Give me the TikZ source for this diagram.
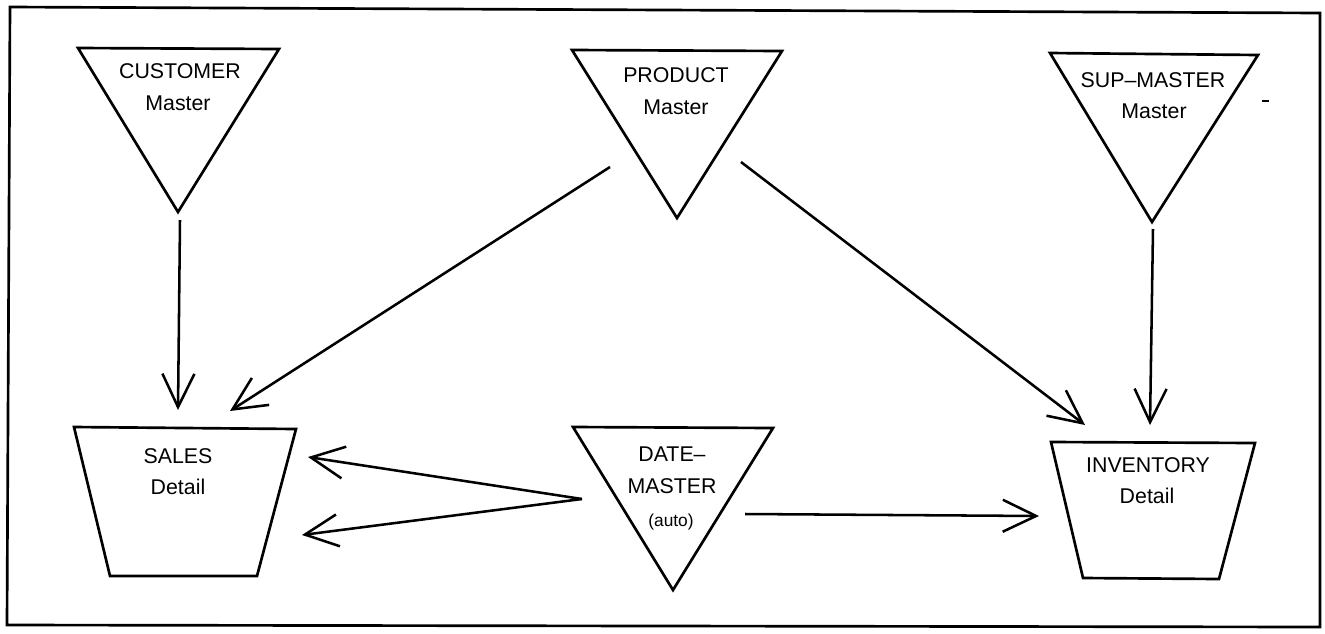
\documentclass[tikz,border=0pt]{standalone}
\usepackage{fontspec}
\setmainfont{Liberation Sans}
\usetikzlibrary{arrows.meta}
\begin{document}
\begin{tikzpicture}[x=0.75pt,y=-0.75pt,
  outline/.style={line width=2pt, line join=miter},
  frame/.style={line width=2pt},
  lbl/.style={anchor=base, inner sep=0pt, font=\fontsize{16}{19}\selectfont},
  smalllbl/.style={anchor=base, inner sep=0pt, font=\fontsize{13}{16}\selectfont},
  link/.style={line width=1.9pt, -{Straight Barb[length=25pt,width=24pt]}}]
\useasboundingbox (0,0) rectangle (1325,633);

% outer frame
\draw[frame] (10,7) -- (1320,13) -- (1320,627) -- (7,625) -- cycle;

% master files (downward triangles)
\draw[outline] (78,48) -- (279,49) -- (178,212) -- cycle;
\draw[outline] (572,50) -- (782,51) -- (677,218) -- cycle;
\draw[outline] (1050,53) -- (1258,55) -- (1152,222) -- cycle;
\draw[outline] (573,427) -- (773,428) -- (673,590) -- cycle;

% detail files (trapezoids)
\draw[outline] (74,427) -- (296,429) -- (257,576) -- (110,576) -- cycle;
\draw[outline] (1051,442) -- (1255,443) -- (1219,579) -- (1083,578) -- cycle;

% labels
\node[lbl] (custA) at (180,78) {CUSTOMER};
\node[lbl] (custB) at (178,110) {Master};
\node[lbl] (prodA) at (676,82) {PRODUCT};
\node[lbl] (prodB) at (676,114) {Master};
\node[lbl] (supA) at (1153,87) {SUP--MASTER};
\node[lbl] (supB) at (1154,118) {Master};
\node[lbl] (salesA) at (178,463) {SALES};
\node[lbl] (salesB) at (178,494) {Detail};
\node[lbl] (dateA) at (672,461) {DATE--};
\node[lbl] (dateB) at (672,493) {MASTER};
\node[smalllbl] (dateC) at (671,526) {(auto)};
\node[lbl] (invA) at (1148,472) {INVENTORY};
\node[lbl] (invB) at (1147,503) {Detail};

% connector ends
\coordinate (custOut) at (180,220);
\coordinate (prodOutL) at (610,167);
\coordinate (prodOutR) at (741,162);
\coordinate (supOut) at (1153,229);
\coordinate (dateOutL) at (582,499);
\coordinate (dateOutR) at (745,514);
\coordinate (salesInA) at (178,410);
\coordinate (salesInB) at (230,411);
\coordinate (salesInC) at (308,457);
\coordinate (salesInD) at (302,535);
\coordinate (invInA) at (1085,425);
\coordinate (invInB) at (1150,425);
\coordinate (invInC) at (1039,516);

% connectors
\draw[link] (custOut) -- (salesInA);
\draw[link] (prodOutL) -- (salesInB);
\draw[link] (prodOutR) -- (invInA);
\draw[link] (supOut) -- (invInB);
\draw[link] (dateOutL) -- (salesInC);
\draw[link] (dateOutL) -- (salesInD);
\draw[link] (dateOutR) -- (invInC);

% small stray mark beside the supplier triangle
\draw[line width=1pt] (1262,101) -- (1269,101);
\end{tikzpicture}
\end{document}
